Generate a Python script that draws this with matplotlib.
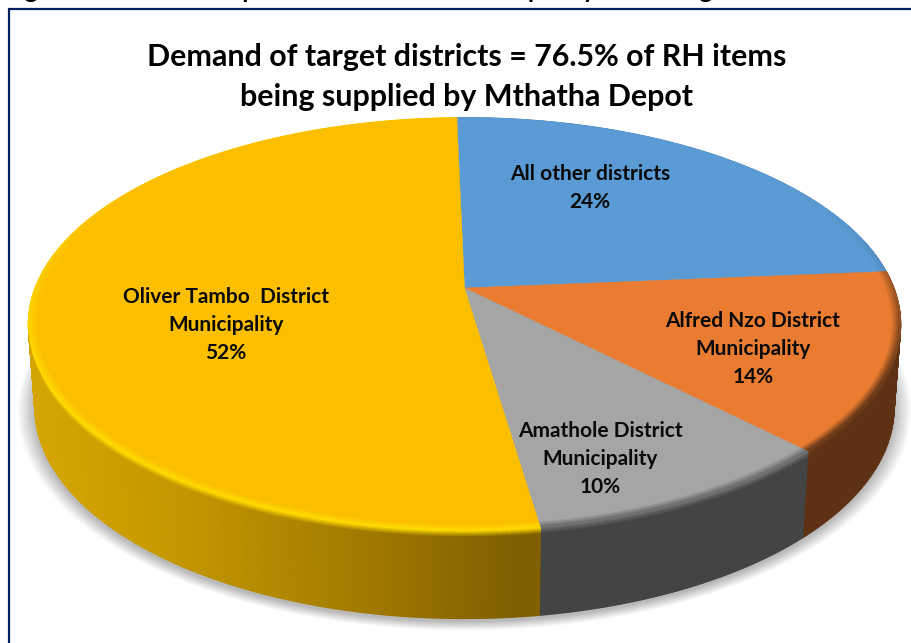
import numpy as np
import matplotlib
matplotlib.use("Agg")
import matplotlib.pyplot as plt
from matplotlib.collections import PolyCollection
from matplotlib.colors import to_rgb
from matplotlib.patches import Polygon

# Share of RH items supplied, by district
districts = ["All other districts", "Alfred Nzo District\nMunicipality",
             "Amathole District\nMunicipality", "Oliver Tambo  District\nMunicipality"]
shares = [24, 14, 10, 52]
share_labels = ["24%", "14%", "10%", "52%"]
face_colors = ["#5B9BD5", "#E97C30", "#A5A5A5", "#FCBF00"]
wall_colors = ["#3A6A96", "#5F3114", "#444444", "#806000"]
bevel_colors = ["#4A80B0", "#6A3A18", "#6E6E6E", "#FFDA00"]
label_positions = [(590, 188), (753, 349), (600, 459), (226, 325)]
title_lines = ["Demand of target districts = 76.5% of RH items",
               "being supplied by Mthatha Depot"]

FRAME = "#002060"
TEXT = "#0A0A0A"
FONT = "Lato"

# Perspective parameters for the tilted disc (canvas units)
CX, CY = 464.5, 288.0
AX, AY = 429.3, 200.0
KX, KY = 0.175, 0.175
START = -1.2


def project(theta_deg, r=1.0):
    """Clockwise angle from twelve o'clock on the disc -> canvas position."""
    t = np.radians(theta_deg)
    X, Y = r * np.sin(t), r * np.cos(t)
    return CX + AX * X / (1 + KX * Y), CY - AY * Y / (1 + KY * Y)


def project_base(theta_deg):
    """Same angle on the lower rim of the disc."""
    x, y = project(theta_deg)
    Y = np.cos(np.radians(theta_deg))
    return CX + (x - CX) * 0.985, y + 82 - 6 * Y


def mix(a, b, f):
    a, b = np.array(to_rgb(a)), np.array(to_rgb(b))
    return tuple(a + (b - a) * f)


fig = plt.figure(figsize=(9.12, 6.43), dpi=100, facecolor="white")
ax = fig.add_axes([0, 0, 1, 1])
ax.set_xlim(0, 912)
ax.set_ylim(643, 0)
ax.axis("off")

# Caption above the frame and the frame itself
ax.text(4, -2, "Figure 8: Mthatha Depot demand and use of capacity on all target", fontsize=18,
        fontweight="bold", family=FONT, color="black", ha="left", va="baseline", clip_on=False)
ax.plot([9, 9, 912], [643, 9, 9], color=FRAME, lw=1.6, solid_joinstyle="miter")

edges = np.cumsum([0] + shares) / np.sum(shares) * 360 + START

# Soft ground shadow, built from stacked translucent outlines
ring = np.linspace(0, 360, 361)
bx, by = project_base(ring)
for grow in np.linspace(1.04, 1.0, 18):
    sx = CX + (bx - CX) * grow
    sy = 395 + (by - 395) * grow + 3
    ax.add_patch(Polygon(np.c_[sx, sy], closed=True, fc="black", ec="none", alpha=0.014, zorder=1))

# Side wall, with a bright-to-dark blend just under the top edge
wall_polys, wall_fc = [], []
rows = np.r_[np.linspace(0, 0.09, 6), 1.0]
for i in range(len(shares)):
    a = np.arange(edges[i], edges[i + 1] + 0.5, 0.5)
    a[-1] = edges[i + 1]
    for a0, a1 in zip(a[:-1], a[1:]):
        x0t, y0t = project(a0)
        x1t, y1t = project(a1)
        x0b, y0b = project_base(a0)
        x1b, y1b = project_base(a1)
        xm = 0.5 * (x0t + x1t)
        base = wall_colors[i]
        if i == 3:
            base = mix("#D4A400", "#806000", np.clip((xm - 40) / 470, 0, 1) ** 1.3)
        for t0, t1 in zip(rows[:-1], rows[1:]):
            wall_polys.append([
                (x0t + (x0b - x0t) * t0, y0t + (y0b - y0t) * t0),
                (x1t + (x1b - x1t) * t0, y1t + (y1b - y1t) * t0),
                (x1t + (x1b - x1t) * t1, y1t + (y1b - y1t) * t1),
                (x0t + (x0b - x0t) * t1, y0t + (y0b - y0t) * t1)])
            wall_fc.append(mix(bevel_colors[i], base, min(t0 / 0.07, 1)))
ax.add_collection(PolyCollection(wall_polys, facecolors=wall_fc, edgecolors=wall_fc, lw=1.0, zorder=2))

# Top face slices
for i in range(len(shares)):
    a = np.linspace(edges[i], edges[i + 1], 300)
    x, y = project(a)
    verts = np.r_[[[CX, CY]], np.c_[x, y]]
    ax.add_patch(Polygon(verts, closed=True, fc=face_colors[i], ec=face_colors[i], lw=0.3, zorder=3))

# Bevel ring that fades into the rim, strongest on the near side
bevel_polys, bevel_fc = [], []
radii = np.linspace(0.982, 1.0, 5)
for i in range(len(shares)):
    a = np.arange(edges[i], edges[i + 1] + 0.5, 0.5)
    a[-1] = edges[i + 1]
    for a0, a1 in zip(a[:-1], a[1:]):
        am = 0.5 * (a0 + a1)
        strength = np.clip(0.55 - np.cos(np.radians(am)), 0, 1)
        for j, (r0, r1) in enumerate(zip(radii[:-1], radii[1:])):
            x00, y00 = project(a0, r0)
            x10, y10 = project(a1, r0)
            x11, y11 = project(a1, r1)
            x01, y01 = project(a0, r1)
            bevel_polys.append([(x00, y00), (x10, y10), (x11, y11), (x01, y01)])
            col = mix(face_colors[i], bevel_colors[i], strength * (j + 1) / 4)
            bevel_fc.append(col)
ax.add_collection(PolyCollection(bevel_polys, facecolors=bevel_fc, edgecolors=bevel_fc, lw=0.5, zorder=4))

# Slice labels
for name, pct, (lx, ly) in zip(districts, share_labels, label_positions):
    ax.text(lx, ly, f"{name}\n{pct}", ha="center", va="center", fontsize=15, fontweight="bold",
            family=FONT, color=TEXT, linespacing=1.53, zorder=6)

# Chart title
for line, y in zip(title_lines, (57, 97)):
    ax.text(467, y, line, ha="center", va="center", fontsize=21.9, fontweight="bold",
            family=FONT, color="black", zorder=6)

fig.savefig("out.png", dpi=100, facecolor="white")
